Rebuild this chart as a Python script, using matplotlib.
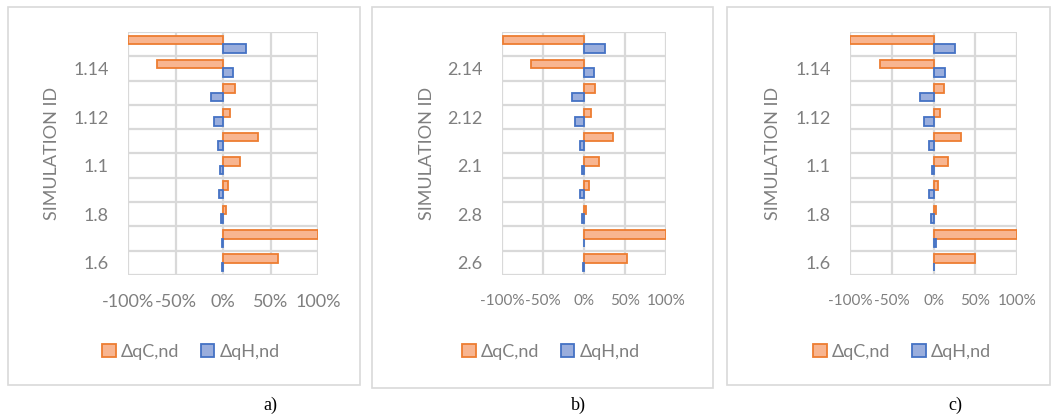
import matplotlib
matplotlib.use("Agg")
import matplotlib.pyplot as plt
import numpy as np
from matplotlib.patches import Rectangle, Patch

# ---------------- data ----------------
cats_a = ["1.6", "1.7", "1.8", "1.9", "1.1", "1.11", "1.12", "1.13", "1.14", "1.15"]
cats_b = ["2.6", "2.7", "2.8", "2.9", "2.1", "2.11", "2.12", "2.13", "2.14", "2.15"]
cats_c = ["1.6", "1.7", "1.8", "1.9", "1.1", "1.11", "1.12", "1.13", "1.14", "1.15"]

dqc_a = [0.58, 1.00, 0.035, 0.056, 0.18, 0.37, 0.07, 0.127, -0.69, -1.00]
dqh_a = [-0.01, -0.01, -0.02, -0.04, -0.03, -0.05, -0.09, -0.13, 0.105, 0.24]

dqc_b = [0.53, 1.00, 0.03, 0.06, 0.18, 0.35, 0.08, 0.13, -0.65, -0.99]
dqh_b = [-0.01, 0.005, -0.025, -0.045, -0.025, -0.05, -0.11, -0.15, 0.12, 0.26]

dqc_c = [0.50, 1.00, 0.035, 0.055, 0.17, 0.33, 0.075, 0.13, -0.64, -1.00]
dqh_c = [0.0, 0.03, -0.024, -0.05, -0.02, -0.056, -0.11, -0.16, 0.14, 0.26]

xticks = [-1.0, -0.5, 0.0, 0.5, 1.0]
xtick_labels = ["-100%", "-50%", "0%", "50%", "100%"]
series_names = ["\u0394qC,nd", "\u0394qH,nd"]
captions = ["a)", "b)", "c)"]

# ---------------- style ----------------
plt.rcParams['font.family'] = ['Lato', 'DejaVu Sans']
W, H = 1060, 419
fig = plt.figure(figsize=(W / 100, H / 100), dpi=100)

GRAY_TXT = "#7f7f7f"
GRID = "#d9d9d9"
OR_EDGE, OR_FILL = "#ed7d31", "#f8b590"
BL_EDGE, BL_FILL = "#4472c4", "#9aaedd"

panels = [
    dict(cats=cats_a, c=dqc_a, h=dqh_a, ax=(128, 318, 32, 275), box=(8, 360, 7, 385),
         ylab_x=52, leg=(191, 352), cap=(270, 405), xfs=13),
    dict(cats=cats_b, c=dqc_b, h=dqh_b, ax=(502, 666, 32, 275), box=(372, 713, 7, 388),
         ylab_x=427, leg=(551, 352), cap=(578, 405), xfs=11),
    dict(cats=cats_c, c=dqc_c, h=dqh_c, ax=(850, 1017, 32, 275), box=(727, 1050, 7, 385),
         ylab_x=773, leg=(902, 352), cap=(955, 405), xfs=11),
]

def fx(px):
    return px / W

def fy(py):
    return 1 - py / H

for i, p in enumerate(panels):
    bx0, bx1, by0, by1 = p["box"]
    fig.patches.append(Rectangle((fx(bx0), fy(by1)), fx(bx1) - fx(bx0), fy(by0) - fy(by1),
                                 transform=fig.transFigure, fill=False, edgecolor=GRID, lw=1.2))
    x0, x1, y0, y1 = p["ax"]
    ax = fig.add_axes([fx(x0), fy(y1), fx(x1) - fx(x0), fy(y0) - fy(y1)])
    n = len(p["cats"])
    y = np.arange(n)
    bh = 0.35
    ax.barh(y + bh / 2, p["c"], height=bh, color=OR_FILL, edgecolor=OR_EDGE, linewidth=1.3, zorder=3)
    ax.barh(y - bh / 2, p["h"], height=bh, color=BL_FILL, edgecolor=BL_EDGE, linewidth=1.3, zorder=3)
    ax.set_xlim(-1, 1)
    ax.set_ylim(-0.5, n - 0.5)
    ax.set_xticks(xticks)
    ax.set_xticklabels(xtick_labels)
    ax.set_yticks(y[::2])
    ax.set_yticklabels(p["cats"][::2])
    ax.set_yticks(np.arange(-0.5, n, 1.0), minor=True)
    ax.grid(True, which="minor", axis="y", color=GRID, lw=1.6, zorder=0)
    ax.grid(True, which="major", axis="x", color=GRID, lw=1.6, zorder=0)
    ax.grid(False, which="major", axis="y")
    for s in ax.spines.values():
        s.set_visible(False)
    ax.tick_params(axis="both", which="both", length=0, colors=GRAY_TXT)
    ax.tick_params(axis="y", pad=14, labelsize=13)
    ax.tick_params(axis="x", pad=14, labelsize=p["xfs"])
    fig.text(fx(p["ylab_x"]), fy(153), "SIMULATION ID", rotation=90, ha="center", va="center",
             color=GRAY_TXT, fontsize=13)
    handles = [Patch(facecolor=OR_FILL, edgecolor=OR_EDGE, lw=1.3),
               Patch(facecolor=BL_FILL, edgecolor=BL_EDGE, lw=1.3)]
    fig.legend(handles, series_names, loc="center", bbox_to_anchor=(fx(p["leg"][0]), fy(p["leg"][1])),
               ncol=2, frameon=False, fontsize=13, labelcolor=GRAY_TXT, handlelength=0.75,
               handleheight=0.75, handletextpad=0.3, columnspacing=1.2, borderpad=0)
    fig.text(fx(p["cap"][0]), fy(p["cap"][1]), captions[i], ha="center", va="center",
             family=["Liberation Serif", "DejaVu Serif"], fontsize=13, color="black")

fig.savefig("out.png", dpi=100)
